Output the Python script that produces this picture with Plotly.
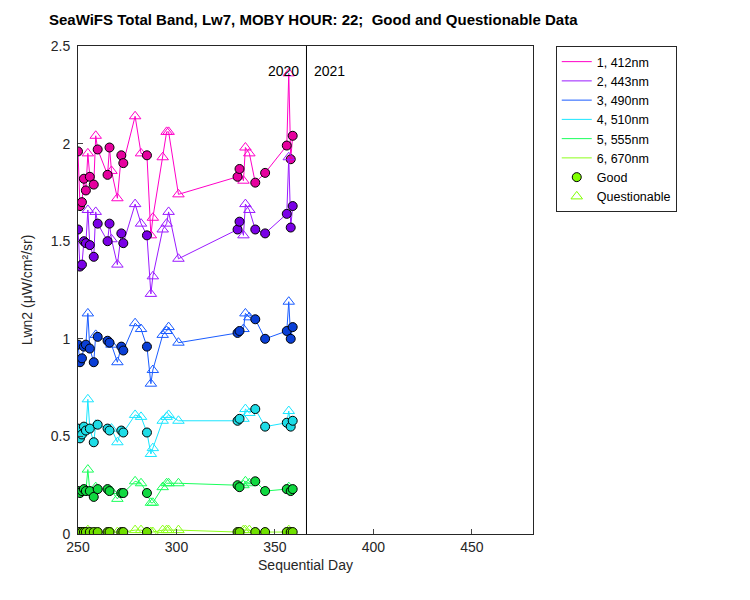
import plotly.graph_objects as go

# sequential day and quality flag (G = good, Q = questionable)
days = [250, 251, 252, 253, 254, 255, 256, 258, 259, 260, 265, 266, 267, 270, 272, 273,
        279, 282, 285, 287, 288, 293, 295, 296, 301, 331, 332, 334, 335, 337, 340, 345,
        356, 357, 358, 359]
flags = ['G', 'G', 'G', 'G', 'G', 'Q', 'G', 'G', 'Q', 'G', 'G', 'G', 'Q', 'Q', 'G', 'G',
         'Q', 'Q', 'G', 'Q', 'Q', 'Q', 'Q', 'Q', 'Q', 'G', 'G', 'Q', 'Q', 'Q', 'G', 'G',
         'G', 'Q', 'G', 'G']

band_412 = [1.96, 1.68, 1.70, 1.82, 1.76, 1.95, 1.83, 1.79, 2.04, 1.97, 1.84, 1.98, 1.86, 1.72, 1.94, 1.90,
            2.14, 1.95, 1.94, 1.53, 1.62, 1.93, 2.06, 2.06, 1.74, 1.83, 1.87, 1.81, 1.98, 1.95, 1.80, 1.85,
            1.99, 2.36, 1.92, 2.04]
band_443 = [1.56, 1.37, 1.38, 1.50, 1.49, 1.66, 1.48, 1.42, 1.65, 1.59, 1.50, 1.59, 1.51, 1.38, 1.54, 1.49,
            1.69, 1.59, 1.53, 1.23, 1.32, 1.56, 1.59, 1.65, 1.41, 1.56, 1.60, 1.53, 1.69, 1.66, 1.56, 1.54,
            1.64, 1.93, 1.57, 1.68]
band_490 = [0.97, 0.88, 0.90, 0.96, 0.97, 1.13, 0.95, 0.88, 1.02, 1.01, 0.99, 0.98, 0.97, 0.88, 0.96, 0.94,
            1.08, 1.05, 0.96, 0.77, 0.84, 1.02, 1.04, 1.06, 0.98, 1.03, 1.04, 1.05, 1.13, 1.11, 1.10, 1.00,
            1.04, 1.19, 1.00, 1.06]
band_510 = [0.54, 0.49, 0.51, 0.55, 0.53, 0.69, 0.54, 0.47, 0.56, 0.56, 0.54, 0.53, 0.54, 0.47, 0.53, 0.52,
            0.61, 0.60, 0.52, 0.41, 0.44, 0.58, 0.60, 0.61, 0.58, 0.58, 0.59, 0.59, 0.64, 0.62, 0.64, 0.55,
            0.57, 0.63, 0.55, 0.58]
band_555 = [0.22, 0.21, 0.22, 0.23, 0.22, 0.33, 0.22, 0.19, 0.24, 0.23, 0.23, 0.22, 0.22, 0.18, 0.21, 0.21,
            0.27, 0.26, 0.21, 0.16, 0.16, 0.24, 0.26, 0.26, 0.26, 0.25, 0.24, 0.25, 0.27, 0.26, 0.27, 0.22,
            0.23, 0.24, 0.22, 0.23]
band_670 = [0.01, 0.01, 0.01, 0.01, 0.01, 0.02, 0.01, 0.01, 0.01, 0.01, 0.01, 0.01, 0.01, 0.01, 0.01, 0.01,
            0.02, 0.02, 0.01, 0.01, 0.01, 0.02, 0.02, 0.02, 0.02, 0.01, 0.01, 0.02, 0.02, 0.02, 0.01, 0.01,
            0.01, 0.02, 0.01, 0.01]

bands = [band_412, band_443, band_490, band_510, band_555, band_670]
band_names = ['1, 412nm', '2, 443nm', '3, 490nm', '4, 510nm', '5, 555nm', '6, 670nm']
line_colors = ['#ff00c8', '#9b1aff', '#1a5cff', '#1ae6ff', '#1aff5c', '#8cff1a']
good_colors = ['#e6009e', '#7a00e6', '#0a3fd6', '#1edce6', '#10d840', '#70e000']

year_split = 366

fig = go.Figure()

for vals, name, lc, gc in zip(bands, band_names, line_colors, good_colors):
    fig.add_trace(go.Scatter(x=days, y=vals, mode='lines', name=name,
                             line=dict(color=lc, width=1)))
    gx = [d for d, f in zip(days, flags) if f == 'G']
    gy = [v for v, f in zip(vals, flags) if f == 'G']
    qx = [d for d, f in zip(days, flags) if f == 'Q']
    qy = [v for v, f in zip(vals, flags) if f == 'Q']
    fig.add_trace(go.Scatter(x=qx, y=qy, mode='markers', showlegend=False,
                             marker=dict(symbol='triangle-up-open', size=10,
                                         color=lc, line=dict(width=1))))
    fig.add_trace(go.Scatter(x=gx, y=gy, mode='markers', showlegend=False,
                             marker=dict(symbol='circle', size=9, color=gc,
                                         line=dict(color='black', width=1))))

# legend-only entries for flag markers
fig.add_trace(go.Scatter(x=[None], y=[None], mode='markers', name='Good',
                         marker=dict(symbol='circle', size=9, color='#80ff00',
                                     line=dict(color='black', width=1))))
fig.add_trace(go.Scatter(x=[None], y=[None], mode='markers', name='Questionable',
                         marker=dict(symbol='triangle-up-open', size=10, color='#80ff00')))

# year boundary
fig.add_trace(go.Scatter(x=[year_split, year_split], y=[0, 2.5], mode='lines',
                         showlegend=False, line=dict(color='black', width=1)))
fig.add_annotation(x=year_split - 3, y=2.37, text='2020', showarrow=False,
                   xanchor='right', font=dict(size=14, color='black'))
fig.add_annotation(x=year_split + 3, y=2.37, text='2021', showarrow=False,
                   xanchor='left', font=dict(size=14, color='black'))

fig.update_layout(
    width=750, height=600,
    paper_bgcolor='white', plot_bgcolor='white',
    font=dict(family='Liberation Sans, Arial', size=13, color='#262626'),
    title=dict(text='<b>SeaWiFS Total Band, Lw7, MOBY HOUR: 22;  Good and Questionable Data</b>',
               x=0.407, xanchor='center', y=0.99, font=dict(size=15, color='black')),
    margin=dict(l=70, r=225, t=38, b=74),
    legend=dict(x=1.05, y=1.0, xanchor='left', yanchor='top',
                bordercolor='#262626', borderwidth=1, bgcolor='white',
                font=dict(size=12.5, color='black'), tracegroupgap=0),
    showlegend=True,
)
fig.update_xaxes(range=[250, 481], tickvals=[250, 300, 350, 400, 450],
                 title=dict(text='Sequential Day', standoff=6, font=dict(size=14)),
                 ticks='inside', ticklen=5, automargin=False,
                 showgrid=False, zeroline=False, showline=True,
                 linecolor='#262626', mirror=True, tickfont=dict(size=14))
fig.update_yaxes(range=[0, 2.5], tickvals=[0, 0.5, 1, 1.5, 2, 2.5],
                 ticktext=['0', '0.5', '1', '1.5', '2', '2.5'],
                 title=dict(text='Lwn2 (μW/cm²/sr)', standoff=14, font=dict(size=14)),
                 ticks='inside', ticklen=5, automargin=False, ticklabelstandoff=4,
                 showgrid=False, zeroline=False, showline=True,
                 linecolor='#262626', mirror=True, tickfont=dict(size=14))

fig.write_html("out.html")
